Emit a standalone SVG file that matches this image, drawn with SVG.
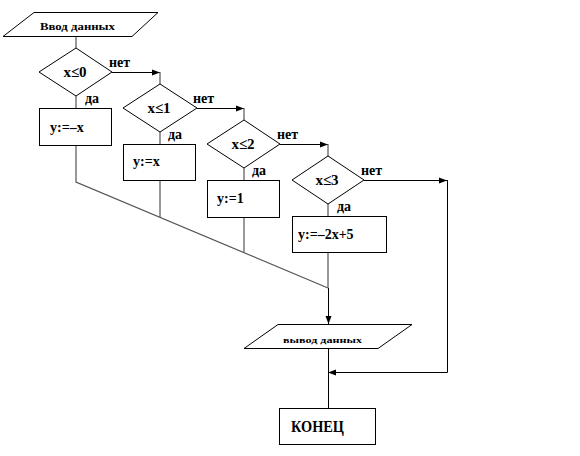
<svg xmlns="http://www.w3.org/2000/svg" width="580" height="456" viewBox="0 0 580 456">
<style>
.sh{fill:#fff;stroke:#000;stroke-width:1}
.ln{fill:none;stroke:#000;stroke-width:1}
.vl{fill:none;stroke:#555;stroke-width:1.2}
text{font-weight:bold;fill:#000}
.d{font-size:15px;text-anchor:middle}
.b{font-size:14px}
.l{font-size:14px}
</style>
<defs>
<marker id="ar" markerUnits="userSpaceOnUse" markerWidth="10" markerHeight="10" viewBox="0 0 10 10" refX="9" refY="5" orient="auto">
<path d="M1,2 L9,5 L1,8 Z" fill="#000"/>
</marker>
</defs>
<rect width="580" height="456" fill="#fff"/>
<g id="connectors">
<line class="vl" x1="76" y1="36" x2="76" y2="48"/>
<line class="ln" x1="112" y1="72.5" x2="160" y2="72.5" marker-end="url(#ar)"/>
<line class="vl" x1="160" y1="72" x2="160" y2="84"/>
<line class="vl" x1="76" y1="96" x2="76" y2="108"/>
<polyline class="vl" points="76,145 76,182 328,288"/>
<line class="ln" x1="197" y1="108.5" x2="244" y2="108.5" marker-end="url(#ar)"/>
<line class="vl" x1="244" y1="108" x2="244" y2="120"/>
<line class="vl" x1="160" y1="132" x2="160" y2="144"/>
<line class="vl" x1="160" y1="180" x2="160" y2="217"/>
<line class="ln" x1="280" y1="144.5" x2="328" y2="144.5" marker-end="url(#ar)"/>
<line class="vl" x1="328" y1="144" x2="328" y2="156"/>
<line class="vl" x1="244" y1="168" x2="244" y2="180"/>
<line class="vl" x1="244" y1="217" x2="244" y2="252"/>
<line class="ln" x1="364" y1="180.5" x2="447" y2="180.5" marker-end="url(#ar)"/>
<polyline class="ln" points="447.5,180 447.5,372.5 328,372.5" marker-end="url(#ar)"/>
<line class="vl" x1="328" y1="204" x2="328" y2="216"/>
<line class="vl" x1="328" y1="252" x2="328" y2="288"/>
<line class="ln" x1="328.5" y1="288" x2="328.5" y2="324" marker-end="url(#ar)"/>
<line class="ln" x1="328.5" y1="348" x2="328.5" y2="408"/>
</g>
<g font-family="Liberation Serif, Times New Roman, serif">
<g id="input">
<polygon class="sh" points="34,12.5 158,12.5 132,36.5 3,36.5"/>
<text x="40" y="30" font-size="11" textLength="75" lengthAdjust="spacingAndGlyphs">Ввод данных</text>
</g>
<g id="cond1">
<polygon class="sh" points="76,48 112,72 76,96 39,72"/>
<text class="d" x="75" y="77">x≤0</text>
<text class="l" x="109" y="67">нет</text>
<text class="l" x="85" y="103">да</text>
</g>
<g id="box1">
<rect class="sh" x="39.5" y="108.5" width="72" height="37"/>
<text class="b" x="50" y="132">y:=–x</text>
</g>
<g id="cond2">
<polygon class="sh" points="160,84 197,108 160,132 123,108"/>
<text class="d" x="159" y="113">x≤1</text>
<text class="l" x="193" y="103">нет</text>
<text class="l" x="168" y="139">да</text>
</g>
<g id="box2">
<rect class="sh" x="123.5" y="144.5" width="72" height="36"/>
<text class="b" x="133" y="166">y:=x</text>
</g>
<g id="cond3">
<polygon class="sh" points="244,120 280,144 244,168 207,144"/>
<text class="d" x="243" y="149">x≤2</text>
<text class="l" x="277" y="139">нет</text>
<text class="l" x="252" y="175">да</text>
</g>
<g id="box3">
<rect class="sh" x="207.5" y="180.5" width="72" height="37"/>
<text class="b" x="217" y="203">y:=1</text>
</g>
<g id="cond4">
<polygon class="sh" points="328,156 364,180 328,204 292,180"/>
<text class="d" x="327" y="185">x≤3</text>
<text class="l" x="361" y="175">нет</text>
<text class="l" x="337" y="211">да</text>
</g>
<g id="box4">
<rect class="sh" x="292.5" y="216.5" width="94" height="36"/>
<text class="b" x="298" y="239">y:=–2x+5</text>
</g>
<g id="output">
<polygon class="sh" points="278,324.5 412,324.5 378,348.5 244,348.5"/>
<text x="283" y="343" font-size="9" textLength="79" lengthAdjust="spacingAndGlyphs">вывод данных</text>
</g>
<g id="end">
<rect class="sh" x="279.5" y="408.5" width="96" height="36"/>
<text x="291" y="432" font-size="17" textLength="53" lengthAdjust="spacingAndGlyphs">КОНЕЦ</text>
</g>
</g>
</svg>
